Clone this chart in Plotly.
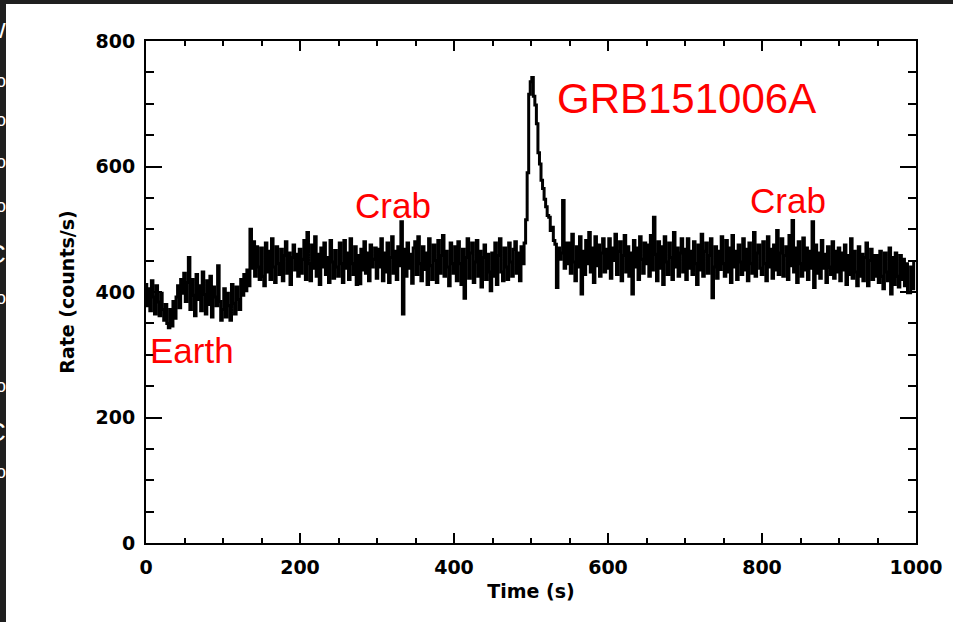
import numpy as np
import plotly.graph_objects as go

# ---- data (2-s bins, rate in counts/s) ----
t_start = 0.0
bin_width = 2.0
rate = [
    412, 378, 405, 370, 418, 392, 365, 410, 384, 362, 398, 372, 355, 380, 350, 343, 372, 346, 385, 358, 392, 410, 375, 420, 398,
    430, 385, 415, 455, 372, 420, 395, 362, 428, 388, 410, 370, 432, 396, 365, 418, 380, 425, 360, 408, 392, 378, 442, 385, 355,
    372, 405, 360, 398, 378, 355, 412, 382, 365, 408, 388, 372, 420, 395, 428, 402, 435, 410, 500, 438, 480, 425, 472, 440, 420,
    470, 425, 410, 478, 432, 465, 420, 485, 440, 415, 472, 445, 428, 468, 418, 458, 480, 430, 462, 412, 455, 475, 435, 460, 425,
    468, 430, 452, 482, 420, 495, 445, 418, 475, 438, 488, 425, 460, 412, 470, 440, 478, 428, 455, 415, 482, 448, 422, 466, 440,
    425, 478, 445, 415, 482, 438, 462, 420, 485, 445, 428, 472, 412, 458, 413, 468, 435, 480, 430, 462, 418, 475, 440, 452, 470,
    422, 468, 440, 485, 418, 462, 432, 478, 415, 455, 488, 430, 465, 420, 472, 442, 512, 365, 468, 425, 478, 438, 460, 414, 470,
    480, 428, 488, 445, 418, 472, 436, 462, 412, 485, 442, 420, 475, 450, 415, 482, 430, 458, 490, 425, 465, 440, 410, 478, 445,
    430, 472, 418, 480, 445, 412, 468, 390, 455, 485, 422, 462, 478, 415, 448, 482, 425, 465, 408, 455, 475, 420, 460, 432, 402,
    462, 425, 478, 412, 458, 485, 432, 418, 470, 440, 420, 478, 448, 425, 468, 480, 430, 462, 418, 472, 445, 478, 515, 590, 715,
    735, 742, 712, 698, 668, 622, 604, 578, 565, 548, 536, 522, 519, 498, 503, 482, 476, 407, 470, 452, 462, 546, 438, 478, 445,
    478, 430, 492, 448, 418, 472, 440, 488, 397, 465, 428, 482, 445, 495, 432, 470, 415, 488, 442, 475, 425, 462, 485, 432, 468,
    438, 485, 422, 470, 450, 492, 428, 465, 480, 418, 458, 490, 432, 472, 425, 462, 397, 482, 440, 470, 420, 488, 452, 430, 478,
    445, 475, 425, 490, 435, 519, 460, 418, 480, 438, 472, 412, 488, 448, 428, 478, 455, 420, 495, 440, 470, 425, 462, 485, 432,
    468, 420, 485, 438, 465, 428, 480, 445, 412, 475, 435, 492, 425, 465, 478, 430, 458, 485, 391, 440, 472, 422, 465, 436, 488,
    445, 425, 482, 432, 470, 415, 490, 440, 465, 420, 475, 448, 428, 485, 435, 468, 418, 478, 445, 430, 495, 425, 462, 475, 438,
    428, 480, 445, 418, 488, 440, 468, 422, 475, 435, 498, 428, 462, 485, 425, 458, 472, 420, 490, 442, 514, 432, 470, 415, 480,
    445, 425, 486, 435, 470, 420, 465, 438, 512, 407, 475, 430, 462, 422, 482, 438, 460, 415, 472, 440, 428, 480, 422, 465, 432,
    470, 418, 462, 435, 475, 412, 458, 428, 485, 422, 465, 432, 410, 472, 425, 460, 418, 455, 478, 410, 450, 468, 420, 458, 425,
    458, 415, 465, 425, 405, 462, 432, 418, 470, 397, 455, 412, 462, 425, 408, 458, 420, 452, 410, 445, 399, 399, 440, 405, 448,
]
time = t_start + bin_width * np.arange(len(rate))

labels = ["GRB151006A", "Crab", "Crab", "Earth"]
label_x = [531, 321, 834, 60]
label_y = [708, 538, 546, 307]
label_size = [42, 35, 35, 35]
label_anchor = ["left", "center", "center", "center"]

x_ticks = [0, 200, 400, 600, 800, 1000]
y_ticks = [0, 200, 400, 600, 800]

fig = go.Figure()
fig.add_trace(go.Scatter(x=time, y=rate, mode="lines",
                         line=dict(color="black", width=3, shape="hvh"),
                         hoverinfo="skip", showlegend=False))

tick_font = dict(family="DejaVu Sans", size=19, color="black", weight="bold")

fig.update_xaxes(range=[0, 1000], tickvals=x_ticks, ticktext=[str(v) for v in x_ticks],
                 showgrid=False, zeroline=False, showline=True, linecolor="black", linewidth=2,
                 mirror="allticks", ticks="inside", ticklen=10, tickwidth=2, tickcolor="black",
                 minor=dict(dtick=50, ticks="inside", ticklen=5, tickwidth=2, tickcolor="black", showgrid=False),
                 tickfont=tick_font, ticklabelstandoff=6,
                 title=dict(text="Time (s)", font=tick_font, standoff=8))
fig.update_yaxes(range=[0, 800], tickvals=y_ticks, ticktext=[str(v) for v in y_ticks],
                 showgrid=False, zeroline=False, showline=True, linecolor="black", linewidth=2,
                 mirror="allticks", ticks="inside", ticklen=16, tickwidth=2, tickcolor="black",
                 minor=dict(dtick=50, ticks="inside", ticklen=8, tickwidth=2, tickcolor="black", showgrid=False),
                 tickfont=tick_font, ticklabelstandoff=5,
                 title=dict(text="Rate (counts/s)", font=tick_font, standoff=16))

for txt, x, y, s, a in zip(labels, label_x, label_y, label_size, label_anchor):
    fig.add_annotation(x=x, y=y, xref="x", yref="y", text=txt, showarrow=False,
                       xanchor=a, yanchor="middle",
                       font=dict(family="Liberation Sans", size=s, color="#ff0000"))

# page frame (dark slide border on top and left)
L, R, T, B = 146, 37, 41, 79
W, H = 953, 622
pw, ph = W - L - R, H - T - B
def px(x):
    return (x - L) / pw
def py(y):
    return (H - B - y) / ph

fig.add_shape(type="rect", xref="paper", yref="paper", x0=px(0), x1=px(W), y0=py(0), y1=py(4),
              fillcolor="#1f1f1f", line_width=0, layer="above")
fig.add_shape(type="rect", xref="paper", yref="paper", x0=px(0), x1=px(6), y0=py(0), y1=py(H),
              fillcolor="#1f1f1f", line_width=0, layer="above")

# partial white glyphs on the left border
glyph_y = [30, 81, 120, 162, 206, 254, 298, 386, 432, 472]
glyph_t = ["W", "o", "o", "o", "o", "C", "o", "o", "C", "o"]
glyph_s = [22, 18, 18, 18, 18, 26, 18, 18, 26, 18]
for gy, gt, gs in zip(glyph_y, glyph_t, glyph_s):
    fig.add_annotation(xref="paper", yref="paper", x=px(8), y=py(gy), text=gt, showarrow=False,
                       xanchor="right", yanchor="middle",
                       font=dict(family="Liberation Sans", size=gs, color="white"))

fig.update_layout(width=W, height=H, margin=dict(l=L, r=R, t=T, b=B, autoexpand=False),
                  paper_bgcolor="white", plot_bgcolor="white")

fig.write_html("out.html",
               config={"displayModeBar": False},
               post_script="document.body.style.margin='0';document.body.style.overflow='hidden';")
